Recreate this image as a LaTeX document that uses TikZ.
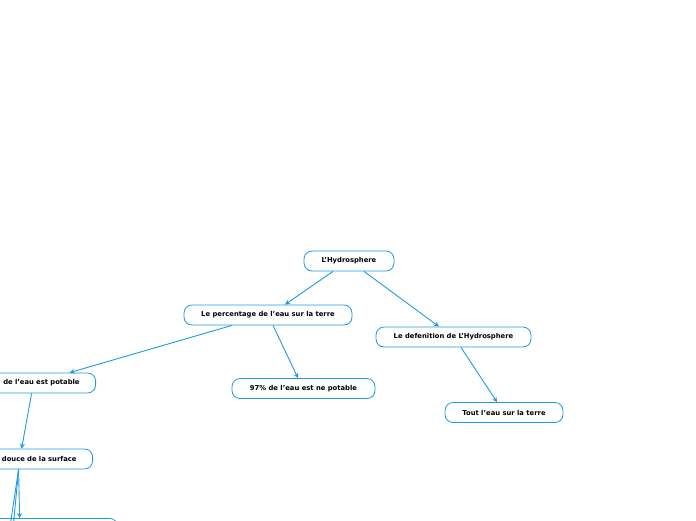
\documentclass[tikz,border=0pt]{standalone}
\usepackage{fontspec}
\setmainfont{DejaVu Sans}
\usetikzlibrary{arrows.meta,positioning}
\definecolor{mapblue}{HTML}{1E9BE0}

\begin{document}
\begin{tikzpicture}[x=1pt,y=-1pt,
    every node/.style={font=\fontsize{6.8}{8}\selectfont\bfseries},
    topic/.style={draw=mapblue,line width=0.8pt,rounded corners=8pt,fill=white,minimum height=20pt,inner sep=0pt,align=center},
    cut/.style={topic,inner xsep=16pt,text width=110pt,align=right,anchor=east},
    arr/.style={-{Stealth[length=5pt,width=5pt]},mapblue,line width=0.9pt}
]
\useasboundingbox (0,0) rectangle (696,520);
\clip (0,0) rectangle (696,520);

\node[topic,minimum width=90] (hydro) at (349,261) {L'Hydrosphere};
\node[topic,minimum width=168] (pct) at (268,315) {Le percentage de l'eau sur la terre};
\node[topic,minimum width=155] (def) at (453.5,337) {Le defenition de L'Hydrosphere};
\node[topic,minimum width=143] (nonpot) at (303.5,388.5) {97\% de l'eau est ne potable};
\node[topic,minimum width=118] (tout) at (504,412.5) {Tout l'eau sur la terre};
\node[cut] (pot) at (96,383) {de l'eau est potable};
\node[cut] (douce) at (93,459) {douce de la surface};
\node[topic,minimum width=160,anchor=north east] (next) at (118,518) {};
\coordinate (offa) at (8,540);
\coordinate (offb) at (12,540);

\draw[arr] ([xshift=-16]hydro.south) -- ([xshift=17]pct.north);
\draw[arr] ([xshift=15]hydro.south) -- ([xshift=-14.5]def.north);
\draw[arr] ([xshift=-36]pct.south) -- ([xshift=45]pot.north);
\draw[arr] ([xshift=5]pct.south) -- ([xshift=-5.5]nonpot.north);
\draw[arr] ([xshift=7.5]def.south) -- ([xshift=-7]tout.north);
\draw[arr] ([xshift=7]pot.south) -- (douce.north);
\draw[arr] ([xshift=-3]douce.south) -- ([xshift=-18]next.north);
\draw[arr] ([xshift=-3]douce.south) -- (offa);
\draw[arr] ([xshift=-3]douce.south) -- (offb);
\end{tikzpicture}
\end{document}
